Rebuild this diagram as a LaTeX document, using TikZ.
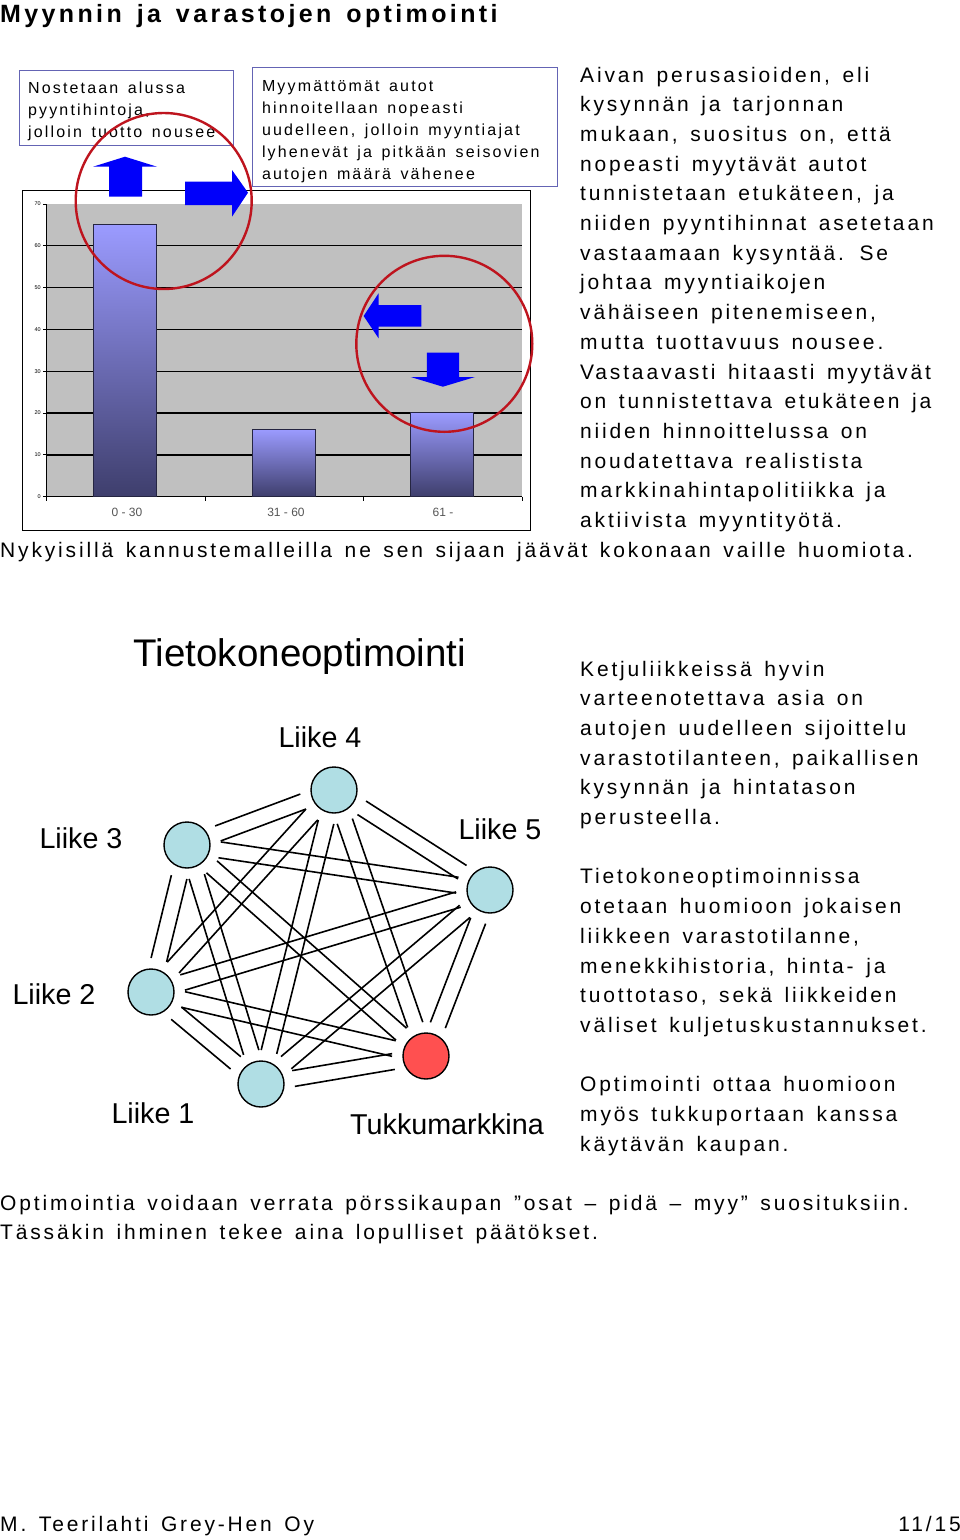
\documentclass[tikz,border=0pt]{standalone}
\usepackage{fontspec}
\setmainfont{Liberation Sans}[LetterSpace=13.5,WordSpace=1.45]
\newfontfamily\plainfont{Liberation Sans}
\usetikzlibrary{calc}
\definecolor{boxedge}{RGB}{100,100,180}
\definecolor{ringred}{RGB}{190,20,30}
\definecolor{arrowblue}{RGB}{0,0,250}
\definecolor{plotgray}{RGB}{192,192,192}
\definecolor{barlight}{RGB}{155,155,255}
\definecolor{bardark}{RGB}{62,62,108}
\definecolor{nodeblue}{RGB}{176,222,228}
\definecolor{nodered}{RGB}{255,80,80}
\definecolor{catgray}{RGB}{85,85,85}
\begin{document}
\begin{tikzpicture}[x=1pt,y=-1pt,
  body/.style={anchor=base west,inner sep=0,align=left,font=\fontsize{21}{29.7}\selectfont},
  boxtext/.style={anchor=base west,inner sep=0,align=left,font=\fontsize{16}{22}\selectfont},
  infobox/.style={draw=boxedge,fill=white,line width=1},
  bar/.style={top color=barlight,bottom color=bardark,draw=bardark!60!black,line width=0.8},
  ticklab/.style={anchor=east,inner sep=0,font=\plainfont\fontsize{5.5}{6}\selectfont},
  catlab/.style={anchor=center,inner sep=0,text=catgray,font=\plainfont\fontsize{12}{14}\selectfont},
  ring/.style={draw=ringred,line width=2.4},
  bluearrow/.style={fill=arrowblue},
  shop/.style={circle,draw=black,line width=1.4,fill=nodeblue,minimum size=46pt,inner sep=0},
  market/.style={shop,fill=nodered},
  netlab/.style={anchor=base,inner sep=0,font=\plainfont\fontsize{28.7}{32}\selectfont},
  pair/.style={line width=1.6,to path={
    ($(\tikztostart.center)!33pt!(\tikztotarget.center)!8pt!90:(\tikztotarget.center)$) --
    ($(\tikztotarget.center)!33pt!(\tikztostart.center)!8pt!-90:(\tikztostart.center)$)
    ($(\tikztostart.center)!33pt!(\tikztotarget.center)!8pt!-90:(\tikztotarget.center)$) --
    ($(\tikztotarget.center)!33pt!(\tikztostart.center)!8pt!90:(\tikztostart.center)$)}}
]
\useasboundingbox[fill=white] (0,0) rectangle (960,1540);

% title
\node[anchor=base west,inner sep=0,font=\fontsize{25}{30}\selectfont\bfseries] (title) at (0,22) {Myynnin ja varastojen optimointi};

% chart
\draw[line width=0.8] (22,190) rectangle (530,530);
\fill[plotgray] (46.4,204) rectangle (522,496.7);
\foreach \v in {10,20,30,40,50,60}
  \draw[line width=1.3] (46.4,{496.7-\v*4.181}) -- (522,{496.7-\v*4.181});
\draw[line width=1] (46.4,204) -- (46.4,496.7) -- (522,496.7);
\foreach \v in {0,10,20,30,40,50,60,70}{
  \draw[line width=0.8] (43,{496.7-\v*4.181}) -- (46.4,{496.7-\v*4.181});
  \node[ticklab] (tick\v) at (41,{496.7-\v*4.181}) {\v};
}
\foreach \x in {46.4,205,363.6,522}
  \draw[line width=0.8] (\x,496.7) -- (\x,501);
\shade[bar] (93.6,224.7) rectangle (156.4,496.7);
\shade[bar] (252.5,429.3) rectangle (315,496.7);
\shade[bar] (410.7,412.7) rectangle (473.2,496.7);
\node[catlab] (cat1) at (127,512.7) {0 - 30};
\node[catlab] (cat2) at (286,512.7) {31 - 60};
\node[catlab] (cat3) at (443,512.7) {61 -};

% info boxes (base anchor = last line baseline)
\draw[infobox] (19.6,70) rectangle (233,145);
\node[boxtext] (box1) at (27.9,137) {Nostetaan alussa\\pyyntihintoja,\\jolloin tuotto nousee};
\draw[infobox] (252.9,67.3) rectangle (557.9,186.7);
\node[boxtext] (box2) at (261.8,179) {Myymättömät autot\\hinnoitellaan nopeasti\\uudelleen, jolloin myyntiajat\\lyhenevät ja pitkään seisovien\\autojen määrä vähenee};

% blue arrows
\fill[bluearrow] (109,196.7) -- (109,166.7) -- (93,166.7) -- (125,156.7) -- (157,166.7) -- (142,166.7) -- (142,196.7) -- cycle;
\fill[bluearrow] (185,181.7) -- (232,181.7) -- (232,170) -- (248,192.7) -- (232,216.7) -- (232,205) -- (185,205) -- cycle;
\fill[bluearrow] (421.4,305) -- (378.6,305) -- (378.6,293.3) -- (363.6,316) -- (378.6,338.3) -- (378.6,326.7) -- (421.4,326.7) -- cycle;
\fill[bluearrow] (426.8,352.7) -- (459,352.7) -- (459,377) -- (475,377) -- (442.9,386.7) -- (410.7,377) -- (426.8,377) -- cycle;

% red rings
\draw[ring] (163.7,201) circle[radius=88pt];
\draw[ring] (444.3,343.8) circle[radius=88pt];

% right column text (base anchor = last line baseline)
\node[body] (intro) at (580,527.5) {Aivan perusasioiden, eli\\kysynnän ja tarjonnan\\mukaan, suositus on, että\\nopeasti myytävät autot\\tunnistetaan etukäteen, ja\\niiden pyyntihinnat asetetaan\\vastaamaan kysyntää. Se\\johtaa myyntiaikojen\\vähäiseen pitenemiseen,\\mutta tuottavuus nousee.\\Vastaavasti hitaasti myytävät\\on tunnistettava etukäteen ja\\niiden hinnoittelussa on\\noudatettava realistista\\markkinahintapolitiikka ja\\aktiivista myyntityötä.};
\node[body] (nyky) at (0,557) {Nykyisillä kannustemalleilla ne sen sijaan jäävät kokonaan vaille huomiota.};

% network
\node[anchor=base,inner sep=0,font=\plainfont\fontsize{38.5}{44}\selectfont] (nettitle) at (300,666) {Tietokoneoptimointi};
\node[shop] (l4) at (334,790) {};
\node[shop] (l3) at (187,845) {};
\node[shop] (l5) at (490,890) {};
\node[shop] (l2) at (151,992) {};
\node[shop] (l1) at (261,1084) {};
\node[market] (tk) at (426,1056) {};
\draw[pair] (l4) to (l3);
\draw[pair] (l4) to (l5);
\draw[pair] (l4) to (l2);
\draw[pair] (l4) to (l1);
\draw[pair] (l4) to (tk);
\draw[pair] (l3) to (l5);
\draw[pair] (l3) to (l2);
\draw[pair] (l3) to (l1);
\draw[pair] (l3) to (tk);
\draw[pair] (l5) to (l2);
\draw[pair] (l5) to (l1);
\draw[pair] (l5) to (tk);
\draw[pair] (l2) to (l1);
\draw[pair] (l2) to (tk);
\draw[pair] (l1) to (tk);
\node[netlab] (lab4) at (320,747) {Liike 4};
\node[netlab] (lab3) at (81,848) {Liike 3};
\node[netlab] (lab5) at (500,839) {Liike 5};
\node[netlab] (lab2) at (54,1004) {Liike 2};
\node[netlab] (lab1) at (153,1123) {Liike 1};
\node[netlab] (labtk) at (447,1134) {Tukkumarkkina};

\node[body] (ketju) at (580,1151.2) {Ketjuliikkeissä hyvin\\varteenotettava asia on\\autojen uudelleen sijoittelu\\varastotilanteen, paikallisen\\kysynnän ja hintatason\\perusteella.\\[29.7pt]Tietokoneoptimoinnissa\\otetaan huomioon jokaisen\\liikkeen varastotilanne,\\menekkihistoria, hinta- ja\\tuottotaso, sekä liikkeiden\\väliset kuljetuskustannukset.\\[29.7pt]Optimointi ottaa huomioon\\myös tukkuportaan kanssa\\käytävän kaupan.};

\node[body] (closing) at (0,1239.7) {Optimointia voidaan verrata pörssikaupan ”osat – pidä – myy” suosituksiin.\\Tässäkin ihminen tekee aina lopulliset päätökset.};

% footer
\node[body] (author) at (0,1531) {M. Teerilahti Grey-Hen Oy};
\node[anchor=base east,inner sep=0,font=\fontsize{21}{29.7}\selectfont] (page) at (961,1531) {11/15};
\end{tikzpicture}
\end{document}
